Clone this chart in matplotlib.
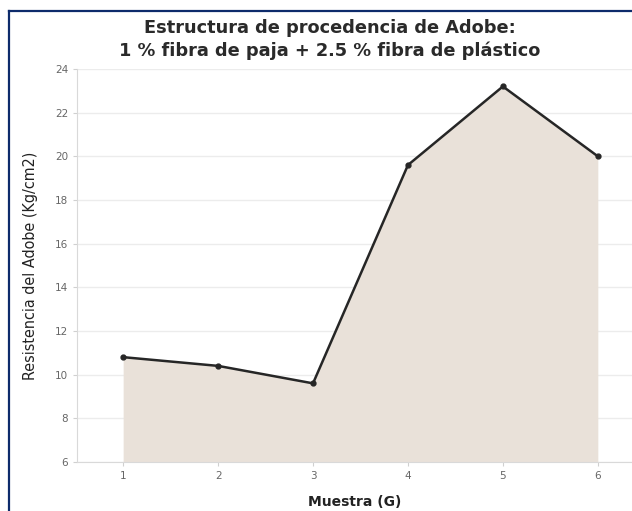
import matplotlib
matplotlib.use("Agg")
import matplotlib.pyplot as plt
from matplotlib.lines import Line2D

muestras = [1, 2, 3, 4, 5, 6]
resistencia = [10.8, 10.4, 9.6, 19.6, 23.2, 20.0]
y_ticks = [6, 8, 10, 12, 14, 16, 18, 20, 22, 24]

title = "Estructura de procedencia de Adobe:\n1 % fibra de paja + 2.5 % fibra de plástico"
x_label = "Muestra (G)"
y_label = "Resistencia del Adobe (Kg/cm2)"

fig = plt.figure(figsize=(6.32, 5.11), dpi=100)
ax = fig.add_axes([0.122, 0.096, 0.878, 0.769])

ax.fill_between(muestras, resistencia, 6, color="#e9e1d9", linewidth=0, zorder=1)
ax.plot(muestras, resistencia, color="#262626", linewidth=1.8, marker="o",
        markersize=3.5, zorder=3)

ax.set_xlim(0.515, 6.36)
ax.set_ylim(6, 24)
ax.set_xticks(muestras)
ax.set_yticks(y_ticks)
ax.grid(axis="y", color="#ececec", linewidth=1, zorder=0)
ax.set_axisbelow(True)

for side in ["top", "right"]:
    ax.spines[side].set_visible(False)
for side in ["left", "bottom"]:
    ax.spines[side].set_color("#d9d9d9")
ax.tick_params(axis="both", colors="#d0d0d0", labelcolor="#666666",
               labelsize=7.5, length=3)

ax.set_xlabel(x_label, fontsize=10, fontweight="bold", color="#222222", labelpad=10)
ax.set_ylabel(y_label, fontsize=11.5, color="#222222", labelpad=12,
              fontstretch="condensed")

fig.text(0.522, 0.963, title, ha="center", va="top", fontsize=12.8,
         fontweight="bold", color="#2a2a2a", linespacing=1.3)

# dark blue frame on the left and top edges
fig.add_artist(Line2D([0.0135, 0.0135], [0, 0.978], color="#0d2b6b", linewidth=1.6))
fig.add_artist(Line2D([0.0135, 1.0], [0.978, 0.978], color="#0d2b6b", linewidth=1.6))

fig.savefig("out.png", dpi=100)
